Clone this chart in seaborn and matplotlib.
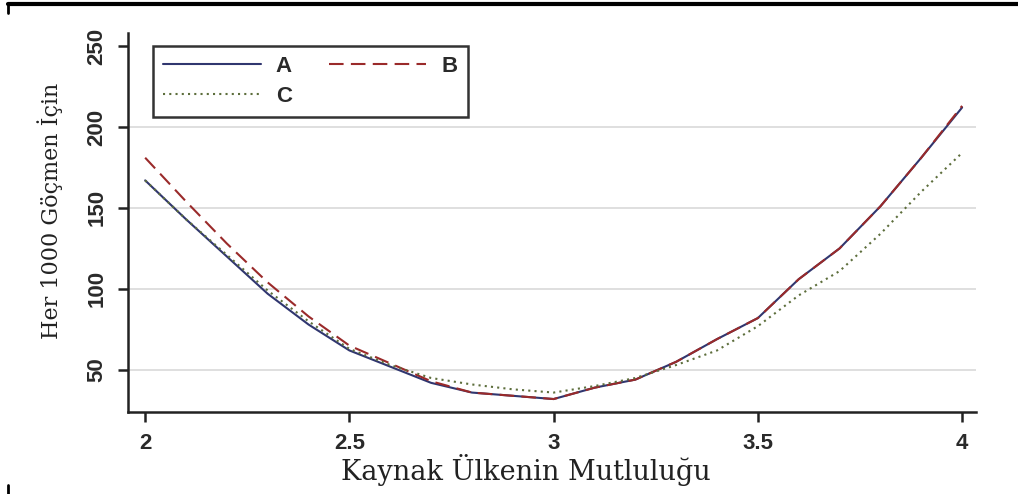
import pandas as pd
import numpy as np
import matplotlib.pyplot as plt
import seaborn as sns
from matplotlib.lines import Line2D

x = [2.0, 2.1, 2.2, 2.3, 2.4, 2.5, 2.6, 2.7, 2.8, 2.9, 3.0,
     3.1, 3.2, 3.3, 3.4, 3.5, 3.6, 3.7, 3.8, 3.9, 4.0]
a = [167, 143, 120, 97, 78, 62, 52, 42, 36, 34, 32,
     39, 44, 55, 69, 82, 106, 125, 151, 181, 212]
b = [181, 154, 128, 104, 83, 65, 54, 43, 36, 34, 32,
     39, 44, 55, 69, 82, 106, 125, 151, 181, 213]
c = [167, 143, 121, 99, 80, 63, 53, 45, 41, 38, 36,
     40, 45, 53, 62, 77, 96, 111, 134, 160, 184]
grup = ['A', 'B', 'C']
renk = {'A': '#30366f', 'B': '#9a2a2a', 'C': '#5d6e3c'}
cizgi = {'A': '', 'B': (7, 3.5), 'C': (1, 2)}

df = pd.DataFrame({
    'mutluluk': x * 3,
    'deger': a + b + c,
    'grup': ['A'] * len(x) + ['B'] * len(x) + ['C'] * len(x),
})

sns.set_style('white')
plt.rcParams['font.family'] = ['Liberation Sans', 'DejaVu Sans']

fig = plt.figure(figsize=(10.18, 4.94), dpi=100)
ax = fig.add_axes([128 / 1018, 1 - 412 / 494, 848 / 1018, 379 / 494])

sns.lineplot(data=df, x='mutluluk', y='deger', hue='grup', style='grup',
             palette=renk, dashes=cizgi, linewidth=1.5, ax=ax, legend=False)

ax.set_xlim(1.958, 4.034)
ax.set_ylim(24, 258)
ax.set_xticks([2, 2.5, 3, 3.5, 4])
ax.set_xticklabels(['2', '2.5', '3', '3.5', '4'], fontweight='bold')
ax.set_yticks([50, 100, 150, 200, 250])
ax.set_yticklabels(['50', '100', '150', '200', '250'], rotation=90, va='center',
                   fontweight='bold')
for yy in [50, 100, 150, 200]:
    ax.axhline(yy, color='#d9d9d9', linewidth=1.2, zorder=0)

for s in ['top', 'right']:
    ax.spines[s].set_visible(False)
for s in ['left', 'bottom']:
    ax.spines[s].set_color('#222222')
    ax.spines[s].set_linewidth(1.8)
ax.tick_params(axis='both', direction='out', length=7, width=1.8, color='#222222',
               labelsize=16, labelcolor='#2a2a2a', bottom=True, left=True)
ax.tick_params(axis='x', pad=8)
ax.tick_params(axis='y', pad=8)

ax.set_xlabel('Kaynak Ülkenin Mutluluğu', family='DejaVu Serif', fontsize=19.5, color='#222222')
ax.set_ylabel('Her 1000 Göçmen İçin', family='DejaVu Serif', fontsize=16, color='#222222')
ax.xaxis.set_label_coords(0.469, -0.112)
ax.yaxis.set_label_coords(-0.077, 0.53)

sira = ['A', 'C', 'B']
handles = [Line2D([], [], color=renk[g], linewidth=1.5,
                  dashes=cizgi[g] if cizgi[g] else (None, None)) for g in sira]
leg = ax.legend(handles, sira, loc='upper left', bbox_to_anchor=(0.0295, 0.966),
                borderaxespad=0, ncol=2, handlelength=4.4, handletextpad=0.68,
                columnspacing=1.65, fancybox=False, frameon=True, borderpad=0.45,
                prop={'family': 'Liberation Sans', 'size': 16, 'weight': 'bold'},
                labelspacing=0.4)
leg.get_frame().set_edgecolor('black')
leg.get_frame().set_linewidth(1.8)
for t in leg.get_texts():
    t.set_color('#2a2a2a')

# cerceve parcalari
fig.add_artist(Line2D([8 / 1018, 1], [1 - 4 / 494, 1 - 4 / 494], color='black', linewidth=3,
                      transform=fig.transFigure))
fig.add_artist(Line2D([8 / 1018, 8 / 1018], [1 - 4 / 494, 1 - 13 / 494], color='black',
                      linewidth=2, transform=fig.transFigure))
fig.add_artist(Line2D([8 / 1018, 8 / 1018], [0, 9 / 494], color='black',
                      linewidth=2, transform=fig.transFigure))

fig.savefig('out.png', dpi=100)
